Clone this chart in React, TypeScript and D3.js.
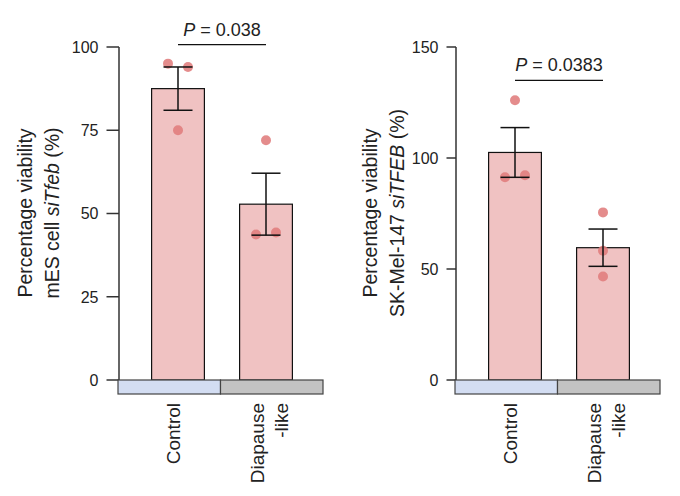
// @ts-nocheck
import * as d3 from "d3";
import React from "react";

// groups shared by both panels
const groups = ["Control", "Diapause-like"];
const groupLines = [["Control"], ["Diapause", "-like"]];

// mES cells, siTfeb
const mesMean = [87.5, 52.8];
const mesSem = [6.5, 9.3];
const mesPoints = [
  [95, 94, 75],
  [43.7, 44.3, 72],
];
const mesTicks = [0, 25, 50, 75, 100];
const mesP = "0.038";
const mesBracket = 100.7;

// SK-Mel-147, siTFEB
const skMean = [102.5, 59.6];
const skSem = [11.2, 8.4];
const skPoints = [
  [91.3, 92.2, 126],
  [75.5, 58.2, 46.6],
];
const skTicks = [0, 50, 100, 150];
const skP = "0.0383";
const skBracket = 135;

const FONT = "'Liberation Sans', Arial, Helvetica, sans-serif";
const barFill = "#f0c2c2";
const dotFill = "#e07c7c";
const baseFills = ["#d3ddf2", "#c3c3c3"];
const ink = "#222";

function Panel({ ox, mean, sem, points, ticks, pText, bracket, tickLen, titleGap, title2, jitter }) {
  const axisX = 119 + ox;
  const y = d3.scaleLinear().domain([0, ticks[ticks.length - 1]]).range([380, 47]);
  const xBar = d3.scaleBand().domain(groups).range([134 + ox, 310 + ox]).paddingInner(0.4).paddingOuter(0.2);
  const xBase = d3.scaleBand().domain(groups).range([118 + ox, 323 + ox]);
  const cx = (g) => xBar(g) + xBar.bandwidth() / 2;
  const by = y(bracket);
  const titleY = 213;

  return (
    <g>
      {/* y axis */}
      <line x1={axisX} x2={axisX} y1={y(0)} y2={y.range()[1]} stroke="#333" strokeWidth={1.5} />
      {ticks.map((t) => (
        <g key={t}>
          <line x1={axisX - tickLen} x2={axisX} y1={y(t)} y2={y(t)} stroke="#333" strokeWidth={1.5} />
          <text x={axisX - tickLen - 8} y={y(t)} dy="0.36em" textAnchor="end" fontSize={16} fill={ink}>
            {t}
          </text>
        </g>
      ))}

      {/* axis title */}
      <g transform={`translate(${axisX - titleGap},${titleY}) rotate(-90)`} fontSize={19.5} fill={ink} textAnchor="middle">
        <text y={0} dy="0.35em">Percentage viability</text>
        <text y={27} dy="0.35em">{title2}</text>
      </g>

      {/* bars */}
      {groups.map((g, i) => (
        <rect key={g} x={xBar(g)} y={y(mean[i])} width={xBar.bandwidth()} height={y(0) - y(mean[i])}
          fill={barFill} stroke="#111" strokeWidth={1.2} />
      ))}

      {/* points */}
      {groups.map((g, i) =>
        points[i].map((v, j) => (
          <circle key={g + j} cx={cx(g) + jitter[i][j]} cy={y(v)} r={5} fill={dotFill} opacity={0.88} />
        ))
      )}

      {/* error bars */}
      {groups.map((g, i) => {
        const lo = y(mean[i] - sem[i]);
        const hi = y(mean[i] + sem[i]);
        const c = cx(g);
        return (
          <g key={g} stroke="#111" strokeWidth={1.5}>
            <line x1={c} x2={c} y1={lo} y2={hi} />
            <line x1={c - 14.5} x2={c + 14.5} y1={lo} y2={lo} />
            <line x1={c - 14.5} x2={c + 14.5} y1={hi} y2={hi} />
          </g>
        );
      })}

      {/* group colour strip */}
      {groups.map((g, i) => (
        <rect key={g} x={xBase(g)} y={y(0)} width={xBase.bandwidth()} height={14}
          fill={baseFills[i]} stroke="#444" strokeWidth={1.2} />
      ))}

      {/* category labels */}
      {groups.map((g, i) => {
        const c = xBase(g) + xBase.bandwidth() / 2;
        const lines = groupLines[i];
        const off = lines.length === 1 ? [4] : [-14, 10];
        return lines.map((l, k) => (
          <text key={g + k} transform={`translate(${c + off[k]},403) rotate(-90)`} dy="0.35em"
            textAnchor="end" fontSize={19} fill={ink}>
            {l}
          </text>
        ));
      })}

      {/* significance */}
      <line x1={cx(groups[0])} x2={cx(groups[1])} y1={by} y2={by} stroke="#111" strokeWidth={1.3} />
      <text x={(cx(groups[0]) + cx(groups[1])) / 2} y={by - 9} textAnchor="middle" fontSize={18} fill={ink}>
        <tspan fontStyle="italic">P</tspan> = {pText}
      </text>
    </g>
  );
}

export default function App() {
  return (
    <svg width={680} height={496} style={{ position: "absolute", left: 0, top: 0, background: "#fff" }} fontFamily={FONT}>
      <Panel ox={0} mean={mesMean} sem={mesSem} points={mesPoints} ticks={mesTicks} pText={mesP}
        bracket={mesBracket} tickLen={12.5} titleGap={94} jitter={[[-10, 10, 0], [-10, 10, 0]]}
        title2={<>mES cell <tspan fontStyle="italic">siTfeb</tspan> (%)</>} />
      <Panel ox={337} mean={skMean} sem={skSem} points={skPoints} ticks={skTicks} pText={skP}
        bracket={skBracket} tickLen={9.5} titleGap={86} jitter={[[-10, 10, 0], [0, 0, 0]]}
        title2={<>SK-Mel-147 <tspan fontStyle="italic">siTFEB</tspan> (%)</>} />
    </svg>
  );
}
